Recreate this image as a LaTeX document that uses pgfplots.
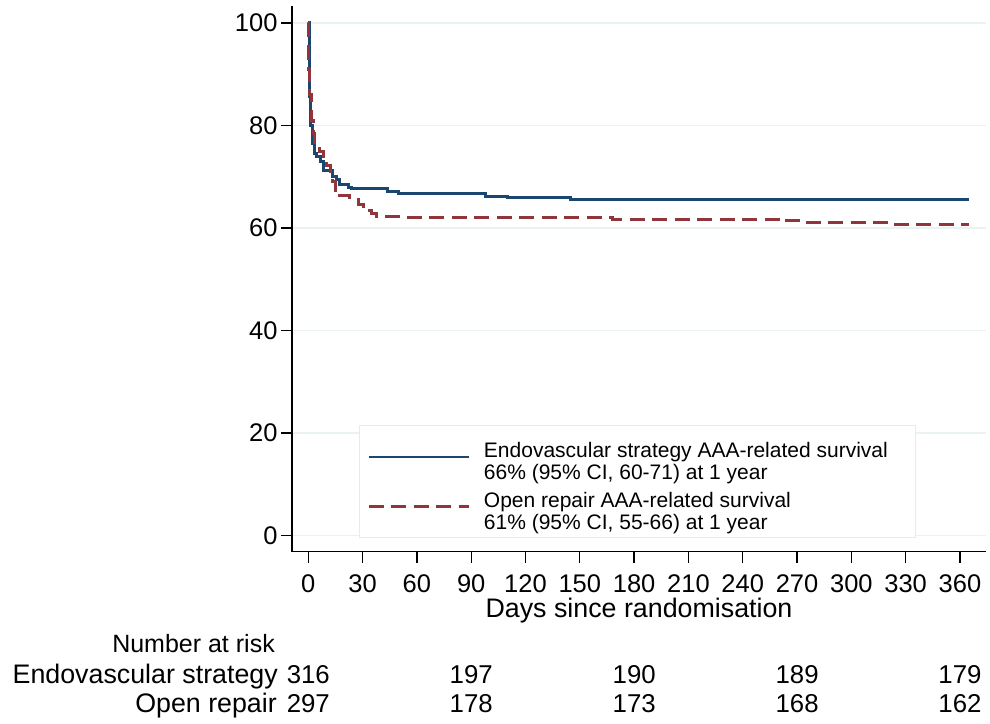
\documentclass[border=0pt]{standalone}
\usepackage{fontspec}
\setmainfont{Liberation Sans}
\usepackage{pgfplots}
\pgfplotsset{compat=1.18}
\definecolor{endo}{RGB}{26,71,111}
\definecolor{openr}{RGB}{144,53,59}
\definecolor{gridc}{RGB}{234,242,243}
\definecolor{legb}{RGB}{228,236,238}
\newcommand{\tickf}{\fontsize{25.5bp}{30bp}\selectfont}
\newcommand{\labf}{\fontsize{26.8bp}{32bp}\selectfont}
\begin{document}
\begin{tikzpicture}[x=1bp,y=1bp]
\path[use as bounding box] (0,0) rectangle (990,724);
\begin{axis}[
  at={(292bp,172.3bp)}, anchor=south west,
  scale only axis, width=694bp, height=545.7bp,
  xmin=-9, xmax=374.4, ymin=-3.16, ymax=103.32,
  axis x line=bottom, axis y line=left,
  axis line style={-, black, line width=1.3bp},
  xtick={0,30,...,360}, ytick={0,20,...,100},
  tick align=outside, major tick length=11bp,
  tick style={black, line width=1.3bp},
  ymajorgrids, grid style={gridc, line width=1.8bp},
  tick label style={font=\tickf},
  xticklabel style={anchor=base, yshift=-30bp},
  xlabel={Days since randomisation},
  xlabel style={font=\labf, anchor=base, at={(axis description cs:0.5,-0.1197)}},
  /pgf/number format/assume math mode=true,
  legend style={at={(0.0965,0.2322)}, anchor=north west, draw=legb, line width=1.2bp,
    fill=white, font=\fontsize{21bp}{22bp}\selectfont, row sep=17bp, column sep=12bp,
    inner xsep=8bp, inner ysep=15bp},
  legend cell align=left,
  legend image code/.code={\draw[#1, line width=2.4bp] (0bp,0bp) -- (100bp,0bp);},
]
\addplot[const plot, endo, line width=3bp] coordinates {
(0,100)(0.4,85.6)(1,80)(2.2,76.4)(3.3,74.6)(4.3,74.0)(6.5,72.9)(8.3,71.3)(13.5,70.1)(15.7,69.4)(17.1,68.4)(22,67.9)(24,67.7)(43.6,67.1)(49.7,66.8)(98,66.2)(110,65.9)(144.7,65.6)(365,65.6)};
\addlegendentry{\begin{tabular}{@{}l@{\hspace{18bp}}}Endovascular strategy AAA-related survival\\66\% (95\% CI, 60-71) at 1 year\end{tabular}}
\addplot[const plot, openr, line width=3bp, dash pattern=on 15bp off 7.5bp] coordinates {
(0,100)(0.3,91)(0.8,86)(1.9,81)(2.8,78.5)(3.7,75.9)(6,74.9)(8.3,73.3)(10,72.1)(12,71)(13.5,69)(15.3,67.4)(17.5,66.4)(23,65.6)(27.6,64.5)(30.4,63.4)(35,62.9)(37.8,62.3)(47,62.2)(50.7,62.1)(168,61.7)(260.5,61.4)(276,61.0)(322.8,60.6)(365,60.6)};
\addlegendentry{\begin{tabular}{@{}l@{\hspace{18bp}}}Open repair AAA-related survival\\61\% (95\% CI, 55-66) at 1 year\end{tabular}}
\end{axis}
\begin{scope}[every node/.style={inner sep=0pt}]
\node[anchor=base east, font=\fontsize{25bp}{30bp}\selectfont] at (275,71) {Number at risk};
\node[anchor=base east, font=\labf] at (278,40) {Endovascular strategy};
\node[anchor=base east, font=\labf] at (277,11.3) {Open repair};
\foreach \x/\a/\b in {308.3/316/297, 471.2/197/178, 634.2/190/173, 797.1/189/168, 960/179/162} {
  \node[anchor=base, font=\fontsize{25.8bp}{30bp}\selectfont] at (\x,40) {\a};
  \node[anchor=base, font=\fontsize{25.8bp}{30bp}\selectfont] at (\x,11.3) {\b};
}
\end{scope}
\end{tikzpicture}
\end{document}
